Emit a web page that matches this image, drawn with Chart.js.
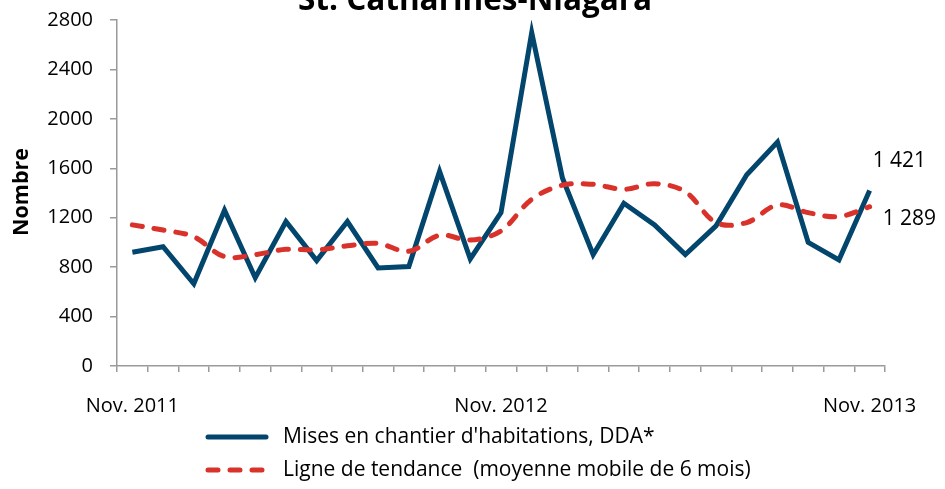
<!DOCTYPE html>
<html><head><meta charset="utf-8">
<script src="https://cdn.jsdelivr.net/npm/chart.js@4.4.0/dist/chart.umd.min.js"></script>
<style>html,body{margin:0;padding:0;background:#fff;overflow:hidden}#wrap{position:relative;width:945px;height:489px;overflow:hidden}#c{position:absolute;left:0;top:-9px}</style>
</head><body><div id="wrap"><canvas id="c" width="945" height="498" style="width:945px;height:498px"></canvas></div>
<script>
const titleText = 'St. Catharines-Niagara';
const yAxisTitle = 'Nombre';
const months = ['Nov. 2011','Déc. 2011','Janv. 2012','Févr. 2012','Mars 2012','Avr. 2012','Mai 2012','Juin 2012','Juil. 2012','Août 2012','Sept. 2012','Oct. 2012',
  'Nov. 2012','Déc. 2012','Janv. 2013','Févr. 2013','Mars 2013','Avr. 2013','Mai 2013','Juin 2013','Juil. 2013','Août 2013','Sept. 2013','Oct. 2013','Nov. 2013'];
const shownTickLabels = ['Nov. 2011','Nov. 2012','Nov. 2013'];
const startsLabel = "Mises en chantier d'habitations, DDA*";
const trendLabel = 'Ligne de tendance  (moyenne mobile de 6 mois)';
const starts = [920, 965, 665, 1261, 714, 1169, 853, 1169, 794, 805, 1575, 866, 1241, 2698, 1522, 901, 1317, 1142, 901, 1134, 1548, 1812, 1000, 858, 1421];
const trend = [1142, 1100, 1046, 885, 901, 944, 939, 973, 992, 928, 1058, 1019, 1094, 1349, 1464, 1470, 1430, 1475, 1410, 1161, 1161, 1303, 1241, 1209, 1289];
const yTicks = [0, 400, 800, 1200, 1600, 2000, 2400, 2800];

const SHIFT = 9; // canvas is drawn 9px higher than the page
const FONT = '"Open Sans", Lato, sans-serif';
const BLUE = '#02456D';
const RED = '#D9322A';
const AXIS = '#9a9a9a';

function fmt(v){ return String(Math.round(v)).replace(/\B(?=(\d{3})+(?!\d))/g, ' '); }

const decor = {
  id: 'decor',
  afterDraw(chart){
    const ctx = chart.ctx;
    ctx.save();
    ctx.fillStyle = '#000';
    // title (cut at top)
    ctx.font = 'bold 31.5px ' + FONT;
    ctx.textAlign = 'center';
    ctx.textBaseline = 'alphabetic';
    ctx.fillText(titleText, 475, 10 + SHIFT);
    // y axis title
    ctx.save();
    ctx.translate(22, 192 + SHIFT);
    ctx.rotate(-Math.PI/2);
    ctx.font = 'bold 21.5px ' + FONT;
    ctx.textAlign = 'center';
    ctx.textBaseline = 'middle';
    ctx.fillText(yAxisTitle, 0, 0);
    ctx.restore();
    // end labels
    const xs = chart.scales.x, ys = chart.scales.y;
    const n = starts.length - 1;
    const px = xs.getPixelForValue(n);
    ctx.font = '21px ' + FONT;
    ctx.textAlign = 'left';
    ctx.textBaseline = 'middle';
    ctx.fillText(fmt(starts[n]), px + 3, ys.getPixelForValue(starts[n]) - 29);
    ctx.fillText(fmt(trend[n]), px + 13, ys.getPixelForValue(trend[n]) + 12);
    // legend
    const ds = chart.data.datasets;
    const rows = [437 + SHIFT, 470 + SHIFT];
    ds.forEach((d, i) => {
      const y = rows[i];
      ctx.beginPath();
      ctx.strokeStyle = d.borderColor;
      ctx.lineWidth = 5;
      ctx.lineCap = 'round';
      ctx.setLineDash(d.borderDash || []);
      ctx.moveTo(208, y);
      ctx.lineTo(266, y);
      ctx.stroke();
      ctx.setLineDash([]);
      ctx.fillStyle = '#000';
      ctx.font = '21px ' + FONT;
      ctx.textAlign = 'left';
      ctx.textBaseline = 'middle';
      ctx.fillText(d.label, 283, y);
    });
    ctx.restore();
  }
};

new Chart(document.getElementById('c'), {
  type: 'line',
  data: {
    labels: months,
    datasets: [
      { label: startsLabel, data: starts, borderColor: BLUE, backgroundColor: BLUE, borderWidth: 5, pointRadius: 0, tension: 0, borderJoinStyle: 'miter', order: 2 },
      { label: trendLabel, data: trend, borderColor: RED, backgroundColor: RED, borderWidth: 5, pointRadius: 0, tension: 0.35, borderDash: [10, 12], borderCapStyle: 'round', order: 1 }
    ]
  },
  options: {
    responsive: false,
    animation: false,
    devicePixelRatio: 1,
    layout: { padding: { left: 0, right: 60, top: 8, bottom: 73 } },
    plugins: { legend: { display: false }, tooltip: { enabled: false }, title: { display: false } },
    scales: {
      x: {
        type: 'category',
        offset: true,
        grid: { offset: true, drawOnChartArea: false, drawTicks: true, tickLength: 6, color: AXIS, lineWidth: 1.5 },
        border: { display: true, color: AXIS, width: 1.5 },
        ticks: {
          autoSkip: false, maxRotation: 0, padding: 22, color: '#000', font: { family: FONT, size: 20 },
          callback: function(v, i){ const l = months[i]; return shownTickLabels.includes(l) ? l : ''; }
        },
        afterFit(s){ s.height = 50; }
      },
      y: {
        min: 0, max: 2800,
        afterBuildTicks(s){ s.ticks = yTicks.map(v => ({ value: v })); },
        grid: { drawOnChartArea: false, drawTicks: true, tickLength: 7, color: AXIS, lineWidth: 1.5 },
        border: { display: true, color: AXIS, width: 1.5 },
        ticks: { padding: 17, color: '#000', font: { family: FONT, size: 20 }, callback: v => String(v) },
        afterFit(s){ s.width = 117; }
      }
    }
  },
  plugins: [decor]
});
</script></body></html>
